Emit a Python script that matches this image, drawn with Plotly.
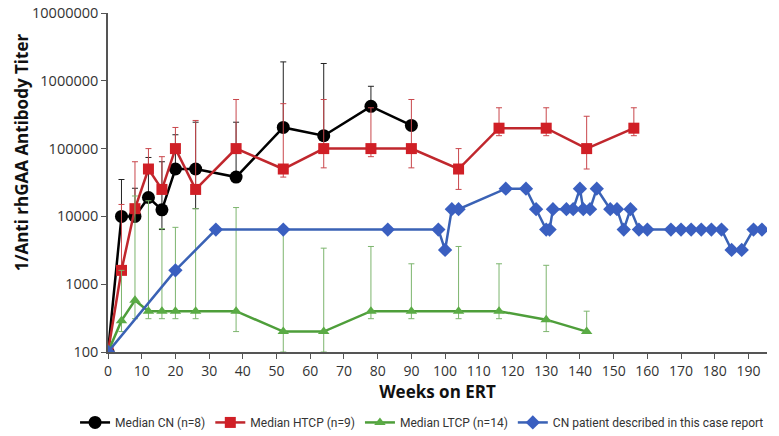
import plotly.graph_objects as go

# ---- data ----
weeks_cn = [0, 4, 8, 12, 16, 20, 26, 38, 52, 64, 78, 90]
cn = [100, 10000, 10000, 19000, 12500, 50000, 50000, 38000, 205000, 155000, 420000, 220000]
cn_hi = [100, 35000, 26000, 74000, 64000, 160000, 245000, 245000, 1900000, 1800000, 830000, 220000]
cn_lo = [100, 10000, 10000, 19000, 6400, 50000, 13000, 38000, 205000, 155000, 420000, 220000]

weeks_h = [0, 4, 8, 12, 16, 20, 26, 38, 52, 64, 78, 90, 104, 116, 130, 142, 156]
htcp = [100, 1600, 13000, 50000, 25000, 100000, 25000, 100000, 50000, 100000, 100000, 100000, 50000, 200000, 200000, 100000, 200000]
htcp_hi = [100, 15000, 64000, 100000, 76000, 205000, 260000, 530000, 460000, 530000, 400000, 530000, 100000, 400000, 400000, 300000, 400000]
htcp_lo = [100, 1600, 13000, 50000, 25000, 100000, 25000, 100000, 38000, 52000, 76000, 52000, 25000, 155000, 155000, 50000, 155000]

weeks_l = [0, 4, 8, 12, 16, 20, 26, 38, 52, 64, 78, 90, 104, 116, 130, 142]
ltcp = [100, 290, 580, 400, 400, 400, 400, 400, 200, 200, 400, 400, 400, 400, 300, 200]
ltcp_hi = [100, 1600, 20000, 17000, 6600, 6900, 13000, 13500, 6400, 3400, 3600, 2000, 3600, 2000, 1900, 400]
ltcp_lo = [100, 200, 310, 310, 310, 310, 310, 200, 100, 100, 310, 310, 310, 310, 200, 200]

weeks_p = [0, 20, 32, 52, 83, 98, 100, 102, 104, 118, 124, 127, 130, 131, 132, 136, 138, 140, 141, 143,
           145, 149, 151, 153, 155, 157.5, 160, 167, 170, 173, 176, 179, 182, 185, 188, 191.5, 194]
patient = [100, 1600, 6400, 6400, 6400, 6400, 3200, 12800, 12800, 25600, 25600, 12800, 6400, 6400, 12800,
           12800, 12800, 25600, 12800, 12800, 25600, 12800, 12800, 6400, 12800, 6400, 6400, 6400, 6400, 6400,
           6400, 6400, 6400, 3200, 3200, 6400, 6400]

y_ticks = [100, 1000, 10000, 100000, 1000000, 10000000]
y_ticktext = ["100", "1000", "10000", "100000", "1000000", "10000000"]
x_ticks = list(range(0, 200, 10))

names = ["Median CN (n=8)", "Median HTCP (n=9)", "Median LTCP (n=14)", "CN patient described in this case report"]


def err(vals, hi, lo, color):
    return dict(type="data", symmetric=False,
                array=[h - v for v, h in zip(vals, hi)],
                arrayminus=[v - l for v, l in zip(vals, lo)],
                color=color, thickness=1, width=3)


fig = go.Figure()
fig.add_trace(go.Scatter(x=weeks_cn, y=cn, name=names[0], mode="lines+markers",
                         line=dict(color="#000000", width=2.5),
                         marker=dict(symbol="circle", size=13, color="#000000"),
                         error_y=err(cn, cn_hi, cn_lo, "#222222")))
fig.add_trace(go.Scatter(x=weeks_h, y=htcp, name=names[1], mode="lines+markers",
                         line=dict(color="#c0272d", width=2.5),
                         marker=dict(symbol="square", size=11, color="#d01f26"),
                         error_y=err(htcp, htcp_hi, htcp_lo, "#c9474c")))
fig.add_trace(go.Scatter(x=weeks_l, y=ltcp, name=names[2], mode="lines+markers",
                         line=dict(color="#4e9e3a", width=2.5),
                         marker=dict(symbol="triangle-up", size=10, color="#5aab45"),
                         error_y=err(ltcp, ltcp_hi, ltcp_lo, "#7db56e")))
fig.add_trace(go.Scatter(x=weeks_p, y=patient, name=names[3], mode="lines+markers",
                         line=dict(color="#3a62b5", width=2.5),
                         marker=dict(symbol="diamond", size=11, color="#3a5fc0")))

fig.update_layout(
    width=779, height=436,
    margin=dict(l=108, r=12, t=13, b=84, autoexpand=False),
    paper_bgcolor="white", plot_bgcolor="white",
    font=dict(family="Open Sans", color="#333333", size=14),
    showlegend=True,
    legend=dict(orientation="h", x=-0.05, xanchor="left", y=-0.165, yanchor="top",
                font=dict(size=12, family="Roboto", color="#333333"),
                itemwidth=30, tracegroupgap=0),
    xaxis=dict(range=[0, 195.5], tickvals=x_ticks, ticks="outside", ticklen=5,
               tickcolor="#555555", showline=True, linecolor="#555555", linewidth=1.5,
               showgrid=False, zeroline=False, tickfont=dict(size=14), automargin=False,
               title=dict(text="<b>Weeks on ERT</b>", font=dict(size=17, color="#111111"), standoff=6)),
    yaxis=dict(type="log", range=[2, 7], tickvals=y_ticks, ticktext=y_ticktext,
               ticks="outside", ticklen=5, tickcolor="#555555", showline=True,
               linecolor="#555555", linewidth=1.5, showgrid=False, zeroline=False,
               tickfont=dict(size=14.5), automargin=False),
    annotations=[dict(text="<b>1/Anti rhGAA Antibody Titer</b>", textangle=-90,
                      xref="paper", yref="paper", x=-0.13, y=0.59,
                      xanchor="center", yanchor="middle", showarrow=False,
                      font=dict(size=17, color="#111111"))],
)

fig.write_html("out.html", config={"displayModeBar": False},
               post_script="document.body.style.margin='0';")
